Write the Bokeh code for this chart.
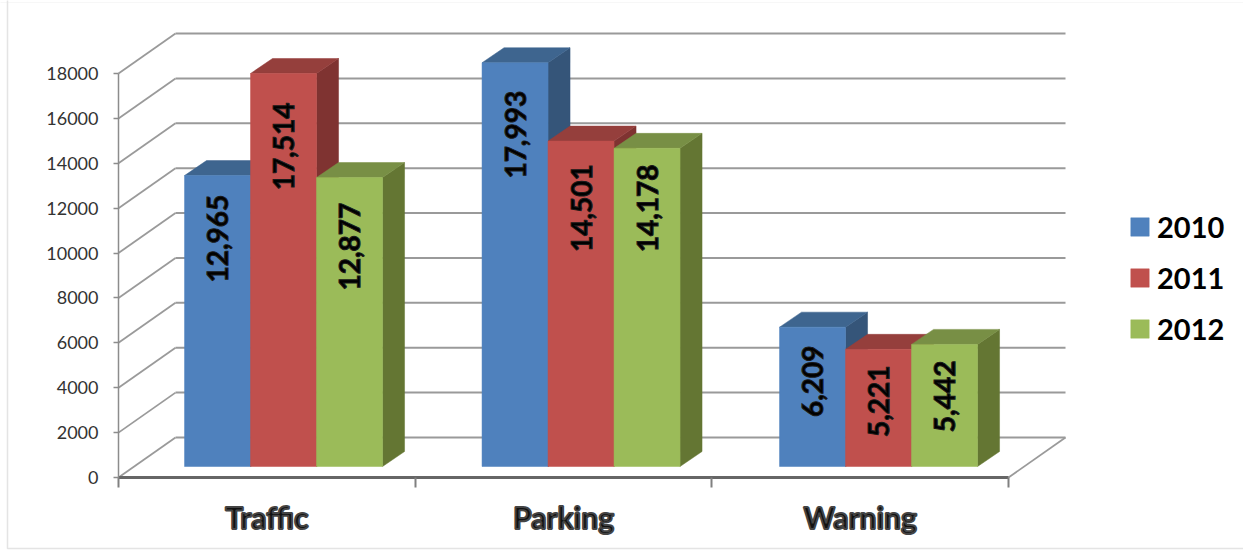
from bokeh.plotting import figure
from bokeh.models import (FixedTicker, Legend, LegendItem, BoxAnnotation)
from bokeh.embed import file_html
from bokeh.resources import INLINE
from bokeh.core.properties import value
import math

categories = ["Traffic", "Parking", "Warning"]
series_names = ["2010", "2011", "2012"]
values_2010 = [12965, 17993, 6209]
values_2011 = [17514, 14501, 5221]
values_2012 = [12877, 14178, 5442]
series_values = [values_2010, values_2011, values_2012]
label_drop_px_2010 = [63, 72, 54]
label_drop_px_2011 = [73, 67, 52]
label_drop_px_2012 = [69, 60, 52]
label_drops = [label_drop_px_2010, label_drop_px_2011, label_drop_px_2012]
y_ticks = [0, 2000, 4000, 6000, 8000, 10000, 12000, 14000, 16000, 18000]

front_colors = ["#4F81BD", "#C0504D", "#9BBB59"]
top_colors = ["#3E658F", "#953F3C", "#788F45"]
side_colors = ["#355579", "#7F3331", "#647633"]

W, H = 1243, 552
X0, Y0 = 118, 477          # pixel of the plot origin
PX_CAT = 296.67            # pixels per category
PX_VAL = 0.02244           # pixels per value unit
WALL_DX, WALL_DY = 57 / PX_CAT, 40 / PX_VAL
BAR_DX, BAR_DY = 22 / PX_CAT, 15 / PX_VAL
BASE_DX, BASE_DY = 16.7 / PX_CAT, 11 / PX_VAL
GROUP_STEP = 297.5 / PX_CAT
BAR_W = 66 / PX_CAT
FONT = value("Lato")

p = figure(width=W, height=H, output_backend="svg", toolbar_location=None,
           x_range=(-X0 / PX_CAT, (W - X0) / PX_CAT),
           y_range=((Y0 - H) / PX_VAL, Y0 / PX_VAL),
           min_border=0, outline_line_color=None, background_fill_color="white")
p.grid.visible = False

# chart surround: strong on the top and left, faint along the bottom
p.add_layout(BoxAnnotation(left=7, right=1400, top=4, bottom=700,
                           left_units="screen", right_units="screen",
                           top_units="screen", bottom_units="screen",
                           fill_alpha=0, line_color="#A6A6A6", line_width=1.5, level="underlay"))
p.add_layout(BoxAnnotation(left=-20, right=1400, top=550, bottom=700,
                           left_units="screen", right_units="screen",
                           top_units="screen", bottom_units="screen",
                           fill_alpha=0, line_color="#E6E6E6", line_width=1, level="underlay"))

GRID = "#9A9A9A"
# walls and floor
n = len(categories)
p.segment(x0=[0] * len(y_ticks), y0=y_ticks,
          x1=[WALL_DX] * len(y_ticks), y1=[v + WALL_DY for v in y_ticks],
          line_color=GRID, line_width=1.8)
p.segment(x0=[WALL_DX] * len(y_ticks), y0=[v + WALL_DY for v in y_ticks],
          x1=[n + WALL_DX] * len(y_ticks), y1=[v + WALL_DY for v in y_ticks],
          line_color=GRID, line_width=2)
p.segment(x0=[n], y0=[0], x1=[n + WALL_DX], y1=[WALL_DY], line_color=GRID, line_width=1.8)

# bars, painted left to right
fronts = []
for k, vals in enumerate(series_values):
    lefts = [i * GROUP_STEP + 0.5 + BASE_DX + (k - 1.5) * BAR_W for i in range(n)]
    rights = [l + BAR_W for l in lefts]
    tops = [v + BASE_DY for v in vals]
    bottoms = [BASE_DY] * n
    side_xs = [[r, r + BAR_DX, r + BAR_DX, r] for r in rights]
    side_ys = [[b, b + BAR_DY, t + BAR_DY, t] for b, t in zip(bottoms, tops)]
    top_xs = [[l, l + BAR_DX, r + BAR_DX, r] for l, r in zip(lefts, rights)]
    top_ys = [[t, t + BAR_DY, t + BAR_DY, t] for t in tops]
    p.patches(side_xs, side_ys, fill_color=side_colors[k], line_color=side_colors[k], line_width=0.5)
    p.patches(top_xs, top_ys, fill_color=top_colors[k], line_color=top_colors[k], line_width=0.5)
    fr = p.quad(left=lefts, right=rights, top=tops, bottom=bottoms,
                fill_color=front_colors[k], line_color=front_colors[k], line_width=0.5)
    fronts.append(fr)

# value labels
for k, vals in enumerate(series_values):
    xs = [i * GROUP_STEP + 0.5 + BASE_DX + (k - 1) * BAR_W for i in range(n)]
    ys = [v + BASE_DY - d / PX_VAL for v, d in zip(vals, label_drops[k])]
    p.text(x=xs, y=ys, text=[f"{v:,}" for v in vals], angle=math.pi / 2,
           text_align="center", text_baseline="middle", text_font=FONT,
           text_font_style="bold", text_font_size="28px", text_color="black",
           text_outline_color="#1A1A1A")

# axes
xa = p.xaxis[0]
xa.fixed_location = 0
xa.bounds = (0, n)
xa.ticker = FixedTicker(ticks=[i + 0.5 for i in range(n)], minor_ticks=list(range(n + 1)))
xa.major_label_overrides = {i + 0.5: c for i, c in enumerate(categories)}
xa.major_tick_line_color = None
xa.minor_tick_in = 0
xa.minor_tick_out = 10
xa.minor_tick_line_color = "#808080"
xa.minor_tick_line_width = 2
xa.axis_line_color = "#666666"
xa.axis_line_width = 3
xa.major_label_standoff = 11
xa.major_label_text_font = "Lato"
xa.major_label_text_font_style = "bold"
xa.major_label_text_font_size = "30px"
xa.major_label_text_color = "#111111"
xa.major_label_text_outline_color = "#444444"

ya = p.yaxis[0]
ya.fixed_location = 0
ya.bounds = (0, y_ticks[-1])
ya.ticker = FixedTicker(ticks=y_ticks)
ya.minor_tick_line_color = None
ya.major_tick_in = 0
ya.major_tick_out = 5
ya.major_tick_line_color = "#8C8C8C"
ya.major_tick_line_width = 1.5
ya.axis_line_color = "#8C8C8C"
ya.axis_line_width = 1.5
ya.major_label_standoff = 15
ya.major_label_text_font = "Lato"
ya.major_label_text_font_size = "18px"
ya.major_label_text_color = "#333333"
ya.major_label_orientation = "horizontal"

legend = Legend(items=[LegendItem(label=s, renderers=[fronts[k]]) for k, s in enumerate(series_names)],
                location=(1128, H - 346), orientation="vertical",
                background_fill_alpha=0, border_line_color=None,
                padding=0, margin=0, spacing=16, glyph_width=23, glyph_height=23,
                label_standoff=6, label_text_font="Lato", label_text_font_style="bold",
                label_text_font_size="29px", label_text_color="black", label_height=33)
p.add_layout(legend, "center")

open("out.html", "w").write(file_html(p, INLINE))
